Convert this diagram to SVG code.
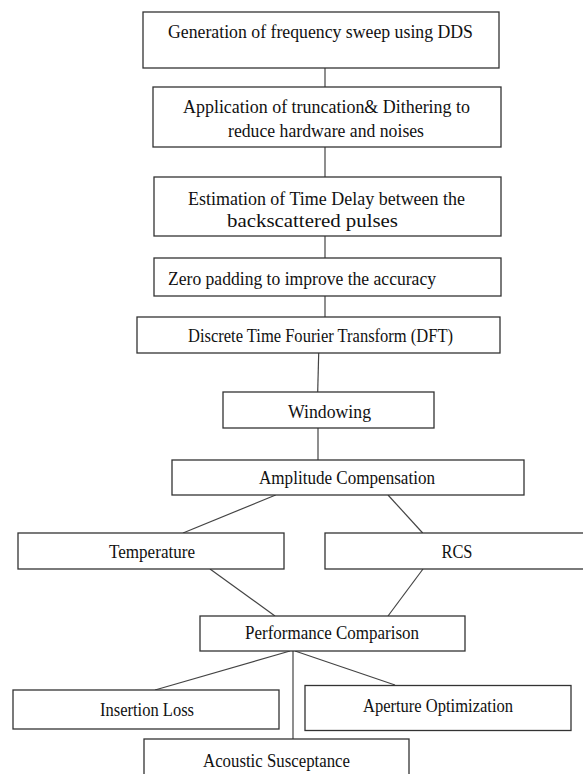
<svg xmlns="http://www.w3.org/2000/svg" width="583" height="774" viewBox="0 0 583 774">
<style>
.box{fill:#fff;stroke:#333;stroke-width:1.3}
.t{font-family:"Liberation Serif","Times New Roman",serif;font-size:18px;fill:#111;text-anchor:start}
.c{fill:none;stroke:#444;stroke-width:1.2}
</style>
<rect width="583" height="774" fill="#fff"/>
<g id="connectors">
<line class="c" x1="325" y1="68" x2="325" y2="87"/>
<line class="c" x1="325" y1="147" x2="325" y2="177"/>
<line class="c" x1="325" y1="236" x2="325" y2="258"/>
<line class="c" x1="325" y1="296" x2="325" y2="317"/>
<line class="c" x1="318.7" y1="353" x2="317.7" y2="392"/>
<line class="c" x1="318" y1="428" x2="318" y2="460"/>
<line class="c" x1="275.7" y1="495" x2="183" y2="533"/>
<line class="c" x1="388" y1="495" x2="422.7" y2="533"/>
<line class="c" x1="210" y1="569" x2="275" y2="616"/>
<line class="c" x1="423" y1="569" x2="388" y2="616"/>
<line class="c" x1="290" y1="651" x2="155" y2="690"/>
<line class="c" x1="293" y1="651" x2="293" y2="739"/>
<line class="c" x1="295" y1="651" x2="395" y2="685"/>
</g>
<g id="n1"><rect class="box" x="143" y="12" width="356" height="56"/><text class="t" x="168" y="38" textLength="305" lengthAdjust="spacingAndGlyphs">Generation of frequency sweep using DDS</text></g>
<g id="n2"><rect class="box" x="153" y="87" width="348" height="60"/><text class="t" x="183" y="113" textLength="287" lengthAdjust="spacingAndGlyphs">Application of truncation&amp; Dithering to</text><text class="t" x="228" y="137" textLength="196" lengthAdjust="spacingAndGlyphs">reduce hardware and noises</text></g>
<g id="n3"><rect class="box" x="154" y="177" width="347" height="59"/><text class="t" x="188" y="205" textLength="277" lengthAdjust="spacingAndGlyphs">Estimation of Time Delay between the</text><text class="t" x="227" y="227" textLength="171" lengthAdjust="spacingAndGlyphs">backscattered pulses</text></g>
<g id="n4"><rect class="box" x="154" y="258" width="347" height="38"/><text class="t" x="168" y="285" textLength="268" lengthAdjust="spacingAndGlyphs">Zero padding to improve the accuracy</text></g>
<g id="n5"><rect class="box" x="137" y="317" width="363" height="36"/><text class="t" x="188" y="342" textLength="265" lengthAdjust="spacingAndGlyphs">Discrete Time Fourier Transform (DFT)</text></g>
<g id="n6"><rect class="box" x="223" y="392" width="211" height="36"/><text class="t" x="288" y="418" textLength="83" lengthAdjust="spacingAndGlyphs">Windowing</text></g>
<g id="n7"><rect class="box" x="172" y="460" width="352" height="35"/><text class="t" x="259" y="484" textLength="176" lengthAdjust="spacingAndGlyphs">Amplitude Compensation</text></g>
<g id="n8"><rect class="box" x="18" y="533" width="266" height="36"/><text class="t" x="109" y="558" textLength="86" lengthAdjust="spacingAndGlyphs">Temperature</text></g>
<g id="n9"><rect class="box" x="325" y="533" width="262" height="36"/><text class="t" x="441.5" y="558" textLength="31" lengthAdjust="spacingAndGlyphs">RCS</text></g>
<g id="n10"><rect class="box" x="200" y="616" width="265" height="35"/><text class="t" x="245" y="639" textLength="174" lengthAdjust="spacingAndGlyphs">Performance Comparison</text></g>
<g id="n11"><rect class="box" x="13" y="690" width="266" height="39"/><text class="t" x="100" y="716" textLength="94" lengthAdjust="spacingAndGlyphs">Insertion Loss</text></g>
<g id="n12"><rect class="box" x="305" y="685.5" width="266" height="45"/><text class="t" x="363" y="711.5" textLength="150" lengthAdjust="spacingAndGlyphs">Aperture Optimization</text></g>
<g id="n13"><rect class="box" x="144" y="739" width="265" height="45"/><text class="t" x="203" y="766.5" textLength="147" lengthAdjust="spacingAndGlyphs">Acoustic Susceptance</text></g>
</svg>
